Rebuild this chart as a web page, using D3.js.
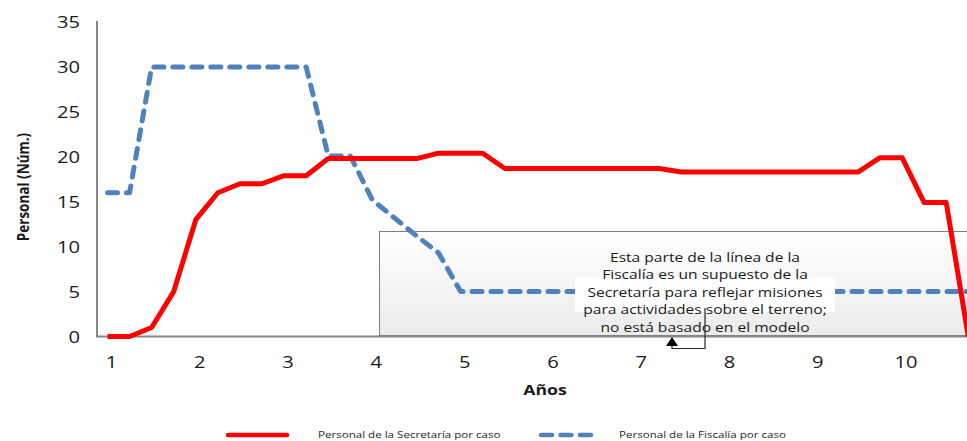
<!DOCTYPE html>
<html>
<head>
<meta charset="utf-8">
<script src="https://cdn.jsdelivr.net/npm/d3@7"></script>
<style>
  body { margin: 0; background: #fff; }
  svg { display: block; }
  text { font-family: "Open Sans", sans-serif; }
</style>
</head>
<body>
<div id="chart"></div>
<script>
// quarterly staffing, years 1..10 (4 points per year)
const yearLabels = ["1", "2", "3", "4", "5", "6", "7", "8", "9", "10"];
const secretaria = [0, 0, 1, 5, 13, 16, 17, 17, 17.9, 17.9,
                    19.8, 19.8, 19.8, 19.8, 19.8, 20.4, 20.4, 20.4, 18.7, 18.7,
                    18.7, 18.7, 18.7, 18.7, 18.7, 18.7, 18.3, 18.3, 18.3, 18.3,
                    18.3, 18.3, 18.3, 18.3, 18.3, 19.9, 19.9, 14.9, 14.9, 0];
const fiscalia = [16, 16, 30, 30, 30, 30, 30, 30, 30, 30,
                  20.1, 20.1, 15.2, 13.2, 11.2, 9.3, 5, 5, 5, 5,
                  5, 5, 5, 5, 5, 5, 5, 5, 5, 5,
                  5, 5, 5, 5, 5, 5, 5, 5, 5, 5];
const yTicks = [0, 5, 10, 15, 20, 25, 30, 35];
const seriesNames = ["Personal de la Secretaría por caso", "Personal de la Fiscalía por caso"];
const noteLines = ["Esta parte de la línea de la",
                   "Fiscalía es un supuesto de la",
                   "Secretaría para reflejar misiones",
                   "para actividades sobre el terreno;",
                   "no está basado en el modelo"];

const width = 967, height = 441;
const red = "#ff0000", blue = "#4f81bd", axisGray = "#868686";

const svg = d3.select("#chart").append("svg")
    .attr("width", width).attr("height", height);

const x = d3.scaleLinear().domain([0, secretaria.length - 1]).range([107.5, 968.3]);
const y = d3.scaleLinear().domain([0, 35]).range([336.5, 22]);

// stretched text, the picture is wider than the fonts
function sText(g, px, py, str, sx) {
    return g.append("text")
        .attr("transform", `translate(${px},${py}) scale(${sx},1)`)
        .text(str);
}

// annotation box behind the lines
const defs = svg.append("defs");
const grad = defs.append("linearGradient").attr("id", "boxgrad")
    .attr("x1", 0).attr("y1", 0).attr("x2", 0).attr("y2", 1);
grad.append("stop").attr("offset", "0%").attr("stop-color", "#ffffff");
grad.append("stop").attr("offset", "100%").attr("stop-color", "#ebebeb");

svg.append("rect")
    .attr("x", 379.5).attr("y", 231.5)
    .attr("width", 600).attr("height", 104)
    .attr("fill", "url(#boxgrad)")
    .attr("stroke", "#7f7f7f").attr("stroke-width", 1);

// axes
svg.append("line").attr("x1", 97).attr("x2", 97).attr("y1", 21).attr("y2", 337)
    .attr("stroke", axisGray).attr("stroke-width", 2);
svg.append("line").attr("x1", 96).attr("x2", width).attr("y1", 336.5).attr("y2", 336.5)
    .attr("stroke", axisGray).attr("stroke-width", 2);

const yLab = svg.append("g").attr("font-size", 15.5).attr("fill", "#1a1a1a")
    .attr("text-anchor", "end").attr("dominant-baseline", "central");
yTicks.forEach(v => sText(yLab, 80, y(v), String(v), 1.3));

const xLab = svg.append("g").attr("font-size", 15.5).attr("fill", "#1a1a1a")
    .attr("text-anchor", "middle").attr("dominant-baseline", "central");
yearLabels.forEach((lab, k) => sText(xLab, x(k * 4) + 4, 362, lab, 1.3));

svg.append("text")
    .attr("transform", "translate(22,187) rotate(-90) scale(1,1.2)")
    .attr("text-anchor", "middle").attr("dominant-baseline", "central")
    .attr("font-size", 13.5).attr("font-weight", "bold").attr("fill", "#1a1a1a")
    .text("Personal (Núm.)");

sText(svg, 545, 389, "Años", 1.18)
    .attr("text-anchor", "middle").attr("dominant-baseline", "central")
    .attr("font-size", 15).attr("font-weight", "bold").attr("fill", "#1a1a1a");

// lines
const line = d3.line().x((d, i) => x(i)).y(d => y(d));

svg.append("path").datum(fiscalia)
    .attr("d", line).attr("fill", "none")
    .attr("stroke", blue).attr("stroke-width", 5)
    .attr("stroke-dasharray", "10,9").attr("stroke-linecap", "round")
    .attr("stroke-linejoin", "round");

svg.append("path").datum(secretaria)
    .attr("d", line).attr("fill", "none")
    .attr("stroke", red).attr("stroke-width", 5)
    .attr("stroke-linejoin", "round");

// note text with white backing on the middle lines
svg.append("rect").attr("x", 575).attr("y", 277).attr("width", 260).attr("height", 35)
    .attr("fill", "#fff");

const note = svg.append("g").attr("font-size", 13).attr("fill", "#1a1a1a")
    .attr("text-anchor", "middle").attr("dominant-baseline", "central");
noteLines.forEach((s, i) => sText(note, 705, 257 + i * 17.5, s, 1.2));

// callout connector and arrow
svg.append("path")
    .attr("d", "M705,308 V348.5 H672 V345")
    .attr("fill", "none").attr("stroke", "#262626").attr("stroke-width", 1.2);
svg.append("path")
    .attr("d", "M672,337 L678,346 L666,346 Z")
    .attr("fill", "#000");

// legend
const leg = svg.append("g");
leg.append("line").attr("x1", 228).attr("x2", 287).attr("y1", 435).attr("y2", 435)
    .attr("stroke", red).attr("stroke-width", 4.5).attr("stroke-linecap", "round");
leg.append("line").attr("x1", 541).attr("x2", 591).attr("y1", 435).attr("y2", 435)
    .attr("stroke", blue).attr("stroke-width", 4.5).attr("stroke-linecap", "round")
    .attr("stroke-dasharray", "11,8.5");
const legText = leg.append("g").attr("font-size", 9.5).attr("fill", "#262626");
sText(legText, 318, 437.5, seriesNames[0], 1.22);
sText(legText, 619, 437.5, seriesNames[1], 1.22);
</script>
</body>
</html>
